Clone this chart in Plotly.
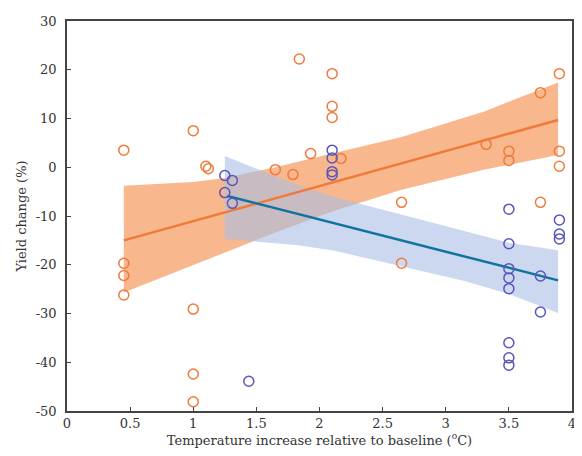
import plotly.graph_objects as go

orange_x = [0.45, 0.45, 0.45, 0.45, 1.0, 1.0, 1.0, 1.0, 1.10, 1.12, 1.65, 1.79, 1.84, 1.93,
            2.1, 2.1, 2.1, 2.17, 2.65, 2.65, 3.32, 3.5, 3.5, 3.75, 3.75, 3.9, 3.9, 3.9]
orange_y = [3.5, -19.7, -22.2, -26.2, 7.5, -29.1, -42.4, -48.1, 0.2, -0.3, -0.5, -1.5, 22.2, 2.8,
            19.2, 12.5, 10.2, 1.8, -7.2, -19.7, 4.7, 3.3, 1.4, 15.3, -7.2, 19.2, 3.3, 0.2]

blue_x = [1.25, 1.31, 1.25, 1.31, 1.44, 2.1, 2.1, 2.1, 2.1,
          3.5, 3.5, 3.5, 3.5, 3.5, 3.5, 3.5, 3.5, 3.75, 3.75, 3.9, 3.9, 3.9]
blue_y = [-1.7, -2.7, -5.2, -7.4, -43.9, 3.5, 1.9, -0.9, -1.6,
          -8.6, -15.7, -20.8, -22.7, -24.9, -36.0, -39.1, -40.6, -22.3, -29.7, -10.8, -13.7, -14.7]

# fitted lines and confidence bands
orange_fit_x = [0.45, 3.89]
orange_fit_y = [-15.0, 9.7]
orange_band_x = [0.45, 1.0, 1.25, 1.65, 2.1, 2.65, 3.3, 3.89]
orange_band_hi = [-3.8, -3.0, -2.2, 0.0, 2.8, 6.2, 11.4, 17.4]
orange_band_lo = [-25.7, -20.1, -17.5, -13.4, -9.1, -4.6, -0.5, 2.5]

blue_fit_x = [1.27, 3.89]
blue_fit_y = [-5.9, -23.2]
blue_band_x = [1.25, 1.83, 2.1, 2.85, 3.14, 3.5, 3.89]
blue_band_hi = [2.3, -3.7, -6.0, -11.0, -13.0, -15.5, -17.0]
blue_band_lo = [-14.7, -16.0, -17.0, -21.5, -23.3, -26.0, -29.9]

x_ticks = [0, 0.5, 1, 1.5, 2, 2.5, 3, 3.5, 4]
x_labels = ["0", "0.5", "1", "1.5", "2", "2.5", "3", "3.5", "4"]
y_ticks = [-50, -40, -30, -20, -10, 0, 10, 20, 30]
y_labels = ["-50", "-40", "-30", "-20", "-10", "0", "10", "20", "30"]

ORANGE = "#F07A3A"
PURPLE = "#5A55B8"
TEAL = "#11739F"

fig = go.Figure()
fig.add_trace(go.Scatter(
    x=orange_band_x + orange_band_x[::-1], y=orange_band_hi + orange_band_lo[::-1],
    fill="toself", fillcolor="#F8B78C", line=dict(width=0), mode="lines", hoverinfo="skip"))
fig.add_trace(go.Scatter(
    x=blue_band_x + blue_band_x[::-1], y=blue_band_hi + blue_band_lo[::-1],
    fill="toself", fillcolor="rgba(170,190,230,0.6)", line=dict(width=0), mode="lines", hoverinfo="skip"))
fig.add_trace(go.Scatter(x=orange_fit_x, y=orange_fit_y, mode="lines",
                         line=dict(color=ORANGE, width=2.5)))
fig.add_trace(go.Scatter(x=blue_fit_x, y=blue_fit_y, mode="lines",
                         line=dict(color=TEAL, width=2.5)))
fig.add_trace(go.Scatter(x=orange_x, y=orange_y, mode="markers",
                         marker=dict(symbol="circle-open", size=10, color=ORANGE, line=dict(width=1.5))))
fig.add_trace(go.Scatter(x=blue_x, y=blue_y, mode="markers",
                         marker=dict(symbol="circle-open", size=10, color=PURPLE, line=dict(width=1.5))))

axis_style = dict(showline=True, mirror=True, linecolor="#444", linewidth=1.5,
                  ticks="inside", ticklen=4, tickcolor="#444", showgrid=False, zeroline=False,
                  tickfont=dict(size=13), ticklabeloverflow="allow")
fig.update_xaxes(range=[0, 4], tickvals=x_ticks, ticktext=x_labels,
                 ticklabelstandoff=0,
                 title=dict(text="Temperature increase relative to baseline (<sup>o</sup>C)",
                            standoff=4, font=dict(size=13)),
                 **axis_style)
fig.update_yaxes(range=[-50, 30], tickvals=y_ticks, ticktext=y_labels, ticklabelstandoff=6,
                 title=dict(text="Yield change (%)", standoff=6, font=dict(size=13)), **axis_style)
# page body adds an 8px margin, so the figure is sized to fit the window
fig.update_layout(
    width=574, height=448, showlegend=False,
    margin=dict(l=59, r=6, t=7, b=45),
    plot_bgcolor="white", paper_bgcolor="white",
    font=dict(family="DejaVu Serif, Liberation Serif, serif", size=13, color="#333"),
)
fig.write_html("out.html")
